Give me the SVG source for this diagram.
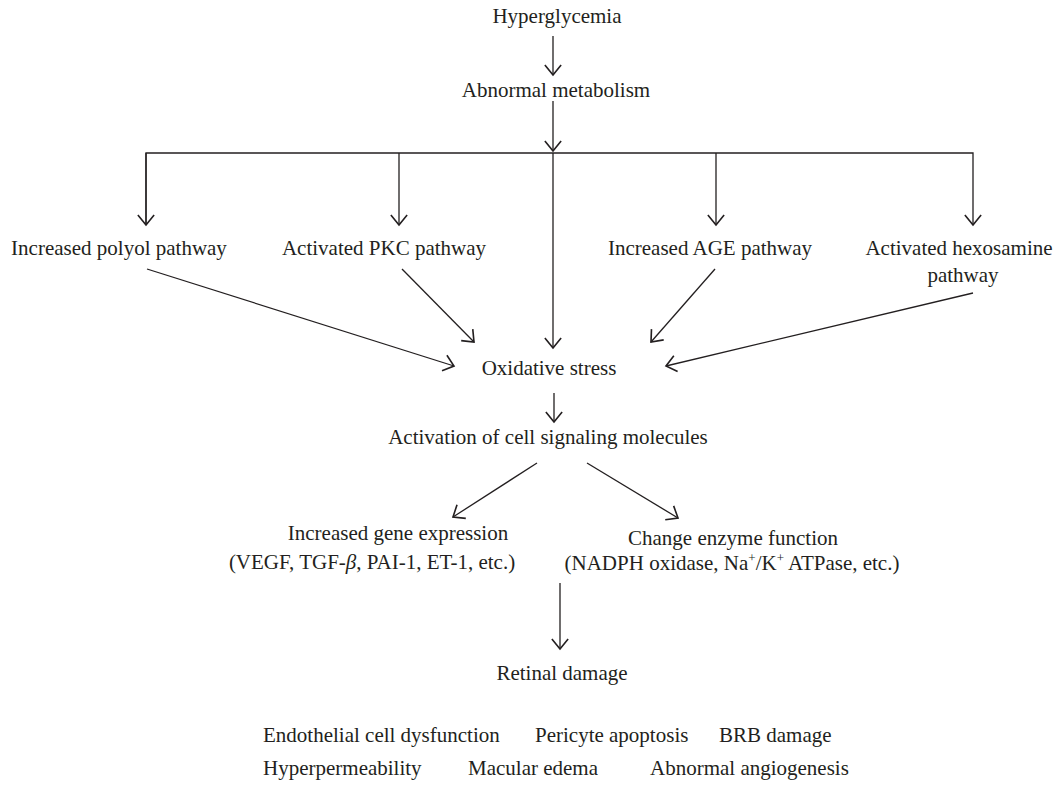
<svg xmlns="http://www.w3.org/2000/svg" width="1057" height="790" viewBox="0 0 1057 790">
<defs>
<style>
text{font-family:"Liberation Serif","Times New Roman",serif;font-size:21px;fill:#231f20}
.c{text-anchor:middle}
.ln{stroke:#231f20;stroke-width:1.3;fill:none}
</style>
<marker id="ah" markerUnits="userSpaceOnUse" markerWidth="20" markerHeight="20" viewBox="-12 -8 14 16" refX="0" refY="0" orient="auto">
<path d="M-8,-6.5 L0,0 L-8,6.5" fill="none" stroke="#231f20" stroke-width="1.3"/>
</marker>
</defs>
<rect width="1057" height="790" fill="#fff"/>
<g id="connectors">
<line class="ln" x1="553" y1="36" x2="553" y2="75" marker-end="url(#ah)"/>
<line class="ln" x1="553" y1="101" x2="553" y2="151" marker-end="url(#ah)"/>
<polyline class="ln" points="146,225 146,153 973,153 973,225" marker-end="url(#ah)"/>
<line class="ln" x1="146" y1="153" x2="146" y2="225" marker-end="url(#ah)"/>
<line class="ln" x1="399" y1="153" x2="399" y2="225" marker-end="url(#ah)"/>
<line class="ln" x1="716" y1="153" x2="716" y2="225" marker-end="url(#ah)"/>
<line class="ln" x1="553" y1="153" x2="553" y2="348" marker-end="url(#ah)"/>
<line class="ln" x1="147" y1="269" x2="454" y2="366" marker-end="url(#ah)"/>
<line class="ln" x1="402" y1="269" x2="474" y2="342" marker-end="url(#ah)"/>
<line class="ln" x1="715" y1="269" x2="651" y2="342" marker-end="url(#ah)"/>
<line class="ln" x1="973" y1="293" x2="666" y2="366" marker-end="url(#ah)"/>
<line class="ln" x1="554" y1="393" x2="554" y2="422" marker-end="url(#ah)"/>
<line class="ln" x1="537" y1="463" x2="453" y2="517" marker-end="url(#ah)"/>
<line class="ln" x1="587" y1="463" x2="678" y2="518" marker-end="url(#ah)"/>
<line class="ln" x1="560" y1="583" x2="560" y2="649" marker-end="url(#ah)"/>
</g>
<g id="n-hyperglycemia"><text class="c" x="557" y="23">Hyperglycemia</text></g>
<g id="n-abnormal-metabolism"><text class="c" x="556" y="97">Abnormal metabolism</text></g>
<g id="n-polyol"><text class="c" x="119" y="255">Increased polyol pathway</text></g>
<g id="n-pkc"><text class="c" x="384" y="255">Activated PKC pathway</text></g>
<g id="n-age"><text class="c" x="710" y="255">Increased AGE pathway</text></g>
<g id="n-hexosamine"><text class="c" x="959" y="255">Activated hexosamine</text><text class="c" x="963" y="282">pathway</text></g>
<g id="n-oxidative-stress"><text class="c" x="549" y="375">Oxidative stress</text></g>
<g id="n-activation"><text class="c" x="548" y="444">Activation of cell signaling molecules</text></g>
<g id="n-gene-expression"><text class="c" x="398" y="540">Increased gene expression</text><text class="c" x="372" y="569">(VEGF, TGF-<tspan font-style="italic">β</tspan>, PAI-1, ET-1, etc.)</text></g>
<g id="n-enzyme"><text class="c" x="733" y="545">Change enzyme function</text><text class="c" x="732" y="570">(NADPH oxidase, Na<tspan font-size="13" dy="-8">+</tspan><tspan dy="8">/K</tspan><tspan font-size="13" dy="-8">+</tspan><tspan dy="8"> ATPase, etc.)</tspan></text></g>
<g id="n-retinal-damage"><text class="c" x="562" y="680">Retinal damage</text></g>
<g id="n-effects">
<text x="263" y="742">Endothelial cell dysfunction</text>
<text x="535" y="742">Pericyte apoptosis</text>
<text x="719" y="742">BRB damage</text>
<text x="263" y="775">Hyperpermeability</text>
<text x="468" y="775">Macular edema</text>
<text x="650" y="775">Abnormal angiogenesis</text>
</g>
</svg>
